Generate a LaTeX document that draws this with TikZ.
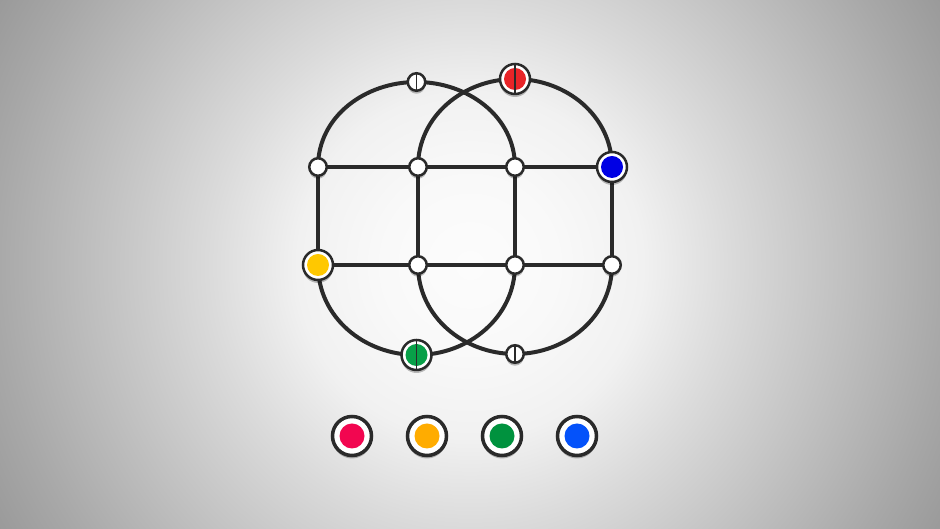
\documentclass[tikz,border=0pt]{standalone}
\usepackage{tikz}
\usetikzlibrary{shadows}
\pgfdeclarelayer{background}
\pgfdeclarelayer{foreground}
\pgfsetlayers{background,main,foreground}
\definecolor{ink}{RGB}{42,42,42}
\definecolor{bgA}{RGB}{252,252,252}
\definecolor{bgB}{RGB}{249,249,249}
\definecolor{bgC}{RGB}{241,241,241}
\definecolor{bgD}{RGB}{219,219,219}
\definecolor{bgE}{RGB}{168,168,168}
\definecolor{bgF}{RGB}{154,154,154}
\definecolor{dotred}{RGB}{232,36,40}
\definecolor{dotblue}{RGB}{0,0,228}
\definecolor{dotyellow}{RGB}{255,200,0}
\definecolor{dotgreen}{RGB}{8,160,72}
\definecolor{keycrimson}{RGB}{242,6,80}
\definecolor{keyorange}{RGB}{255,172,0}
\definecolor{keygreen}{RGB}{0,146,62}
\definecolor{keyblue}{RGB}{4,82,250}
\pgfdeclareradialshading{glow}{\pgfpoint{0bp}{0bp}}{color(0bp)=(bgA); color(4bp)=(bgB); color(8bp)=(bgC); color(12bp)=(bgD); color(22bp)=(bgE); color(25bp)=(bgF); color(50bp)=(bgF)}
\tikzset{
  edge/.style={draw=ink, line width=4pt},
  vert/.style={circle, draw=ink, line width=2.5pt, fill=white, minimum size=17.5pt, inner sep=0pt,
    drop shadow={shadow xshift=0pt, shadow yshift=-3pt, opacity=0.25, fill=black}},
  dotvert/.style={vert, minimum size=30pt, path picture={\fill[#1] (path picture bounding box.center) circle (11pt);}},
  keydot/.style={dotvert=#1, minimum size=39pt, line width=3.5pt, path picture={\fill[#1] (path picture bounding box.center) circle (12.5pt);}},
  cutline/.style={draw=ink, line width=1.6pt}
}

\begin{document}
\begin{tikzpicture}[x=1pt,y=1pt]
\useasboundingbox (0,0) rectangle (940,529);
\begin{pgfonlayer}{foreground}
\node[vert] (a1) at (318,362) {};
\node[vert] (b1) at (418,362) {};
\node[vert] (c1) at (515,362) {};
\node[dotvert=dotblue] (d1) at (612,362) {};
\node[dotvert=dotyellow] (a2) at (318,264) {};
\node[vert] (b2) at (418,264) {};
\node[vert] (c2) at (515,264) {};
\node[vert] (d2) at (612,264) {};
\node[vert] (tl) at (416.5,447) {}; %top of left loop
\node[dotvert=dotred] (tr) at (515,450) {}; %top of right loop
\node[dotvert=dotgreen] (bl) at (416.5,174) {}; %bottom of left loop
\node[vert] (br) at (515,175) {}; %bottom of right loop
\draw[cutline] (tl.north) -- (tl.south);
\draw[cutline] (tr.north) -- (tr.south);
\draw[cutline] (bl.north) -- (bl.south);
\draw[cutline] (br.north) -- (br.south);
% colour key
\node[keydot=keycrimson] (k1) at (352,93) {};
\node[keydot=keyorange] (k2) at (427,93) {};
\node[keydot=keygreen] (k3) at (502,93) {};
\node[keydot=keyblue] (k4) at (577,93) {};
\end{pgfonlayer}
\begin{pgfonlayer}{background}
\begin{scope}
\clip (0,0) rectangle (940,529);
\shade[shading=glow] (470,264) circle (540);
\end{scope}
\draw[edge] (a1.center) -- (b1.center) -- (c1.center) -- (d1.center); %upper row
\draw[edge] (a2.center) -- (b2.center) -- (c2.center) -- (d2.center); %lower row
\draw[edge] (a1.center) -- (a2.center);
\draw[edge] (b1.center) -- (b2.center);
\draw[edge] (c1.center) -- (c2.center);
\draw[edge] (d1.center) -- (d2.center);
\draw[edge] (a1.center) to[out=90,in=180] (tl.center) to[out=0,in=90] (c1.center); %left loop, top
\draw[edge] (b1.center) to[out=90,in=180] (tr.center) to[out=0,in=90] (d1.center); %right loop, top
\draw[edge] (a2.center) to[out=-90,in=180] (bl.center) to[out=0,in=-90] (c2.center); %left loop, bottom
\draw[edge] (b2.center) to[out=-90,in=180] (br.center) to[out=0,in=-90] (d2.center); %right loop, bottom
\end{pgfonlayer}
\end{tikzpicture}
\end{document}
